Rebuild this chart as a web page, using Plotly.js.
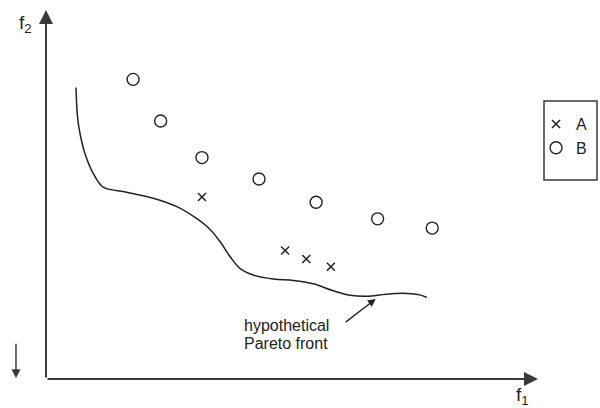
<!DOCTYPE html>
<html>
<head>
<meta charset="utf-8">
<script src="https://cdn.plot.ly/plotly-3.0.1.min.js"></script>
<style>html,body{margin:0;padding:0;background:#fff;}#chart{width:600px;height:408px;}</style>
</head>
<body>
<div id="chart"></div>
<script>
// Series B (circles)
const bF1 = [1.77, 2.33, 3.17, 4.33, 5.49, 6.74, 7.85];
const bF2 = [8.12, 6.99, 6.00, 5.42, 4.79, 4.34, 4.09];
// Series A (crosses)
const aF1 = [3.17, 4.86, 5.29, 5.79];
const aF2 = [4.93, 3.48, 3.25, 3.04];
// Hypothetical Pareto front
const frontF1 = [0.61, 0.64, 0.69, 0.79, 0.96, 1.13, 1.23, 1.64, 2.18, 2.66, 3.06, 3.33, 3.54, 3.74, 3.94, 4.21, 4.62, 5.03, 5.43, 5.84, 6.18, 6.52, 6.92, 7.33, 7.60, 7.74];
const frontF2 = [7.90, 7.11, 6.66, 6.12, 5.57, 5.23, 5.16, 5.06, 4.90, 4.67, 4.35, 4.06, 3.72, 3.32, 3.00, 2.82, 2.71, 2.67, 2.58, 2.39, 2.27, 2.24, 2.30, 2.32, 2.28, 2.21];
const seriesNames = ['A', 'B'];
const xLabel = 'f<sub>1</sub>';
const yLabel = 'f<sub>2</sub>';
const frontLabel = ['hypothetical', 'Pareto front'];

const ink = '#222';
const axisInk = '#3a3a3a';
const fam = 'Liberation Sans, Arial, sans-serif';
const font = {family: fam, size: 16, color: ink};

const traces = [
  {x: frontF1, y: frontF2, mode: 'lines', line: {color: ink, width: 1.5, shape: 'spline', smoothing: 1}, showlegend: false, hoverinfo: 'skip'},
  {x: aF1, y: aF2, mode: 'markers', name: seriesNames[0], marker: {symbol: 'x-thin', size: 8, color: ink, line: {color: ink, width: 1.5}}},
  {x: bF1, y: bF2, mode: 'markers', name: seriesNames[1], marker: {symbol: 'circle-open', size: 12, color: ink, line: {color: ink, width: 1.4}}}
];

const layout = {
  width: 600, height: 408,
  margin: {l: 46, r: 62, t: 10, b: 29, pad: 0, autoexpand: false},
  paper_bgcolor: '#fff', plot_bgcolor: '#fff',
  font: font,
  xaxis: {range: [0, 10], visible: false, fixedrange: true},
  yaxis: {range: [0, 10], visible: false, fixedrange: true},
  showlegend: true,
  legend: {x: 0.996, xanchor: 'left', y: 0.737, yanchor: 'top', bgcolor: 'rgba(0,0,0,0)', borderwidth: 0, font: {family: fam, size: 16, color: ink}, itemwidth: 30, tracegroupgap: 0},
  shapes: [
    {type: 'rect', xref: 'paper', yref: 'paper', x0: 1.0122, x1: 1.1199, y0: 0.5393, y1: 0.7534, line: {color: axisInk, width: 1.5}, fillcolor: 'rgba(0,0,0,0)'}
  ],
  annotations: [
    // axes as arrows
    {x: 10, y: 0, ax: 0, ay: 0, xref: 'x', yref: 'y', axref: 'x', ayref: 'y', text: '', showarrow: true, arrowhead: 2, arrowsize: 1.4, arrowwidth: 2, arrowcolor: axisInk},
    {x: 0, y: 10, ax: 0, ay: 0, xref: 'x', yref: 'y', axref: 'x', ayref: 'y', text: '', showarrow: true, arrowhead: 2, arrowsize: 1.4, arrowwidth: 2, arrowcolor: axisInk},
    // down arrow at left
    {x: -0.061, y: 0.002, ax: 0, ay: -36, xref: 'paper', yref: 'paper', text: '', showarrow: true, arrowhead: 2, arrowsize: 1.2, arrowwidth: 1.5, arrowcolor: axisInk},
    // pointer to front
    {x: 6.70, y: 2.17, ax: 6.06, ay: 1.51, xref: 'x', yref: 'y', axref: 'x', ayref: 'y', text: '', showarrow: true, arrowhead: 2, arrowsize: 1.2, arrowwidth: 1.3, arrowcolor: ink},
    // labels
    {x: 3.98, y: 1.46, xref: 'x', yref: 'y', text: frontLabel[0], showarrow: false, xanchor: 'left', yanchor: 'middle', font: font},
    {x: 3.98, y: 0.95, xref: 'x', yref: 'y', text: frontLabel[1], showarrow: false, xanchor: 'left', yanchor: 'middle', font: font},
    {x: -0.0407, y: 0.962, xref: 'paper', yref: 'paper', text: yLabel, showarrow: false, xanchor: 'center', yanchor: 'middle', font: {family: fam, size: 19, color: ink}},
    {x: 0.9695, y: -0.047, xref: 'paper', yref: 'paper', text: xLabel, showarrow: false, xanchor: 'center', yanchor: 'middle', font: {family: fam, size: 19, color: ink}}
  ]
};

Plotly.newPlot('chart', traces, layout, {displayModeBar: false, staticPlot: true});
</script>
</body>
</html>
